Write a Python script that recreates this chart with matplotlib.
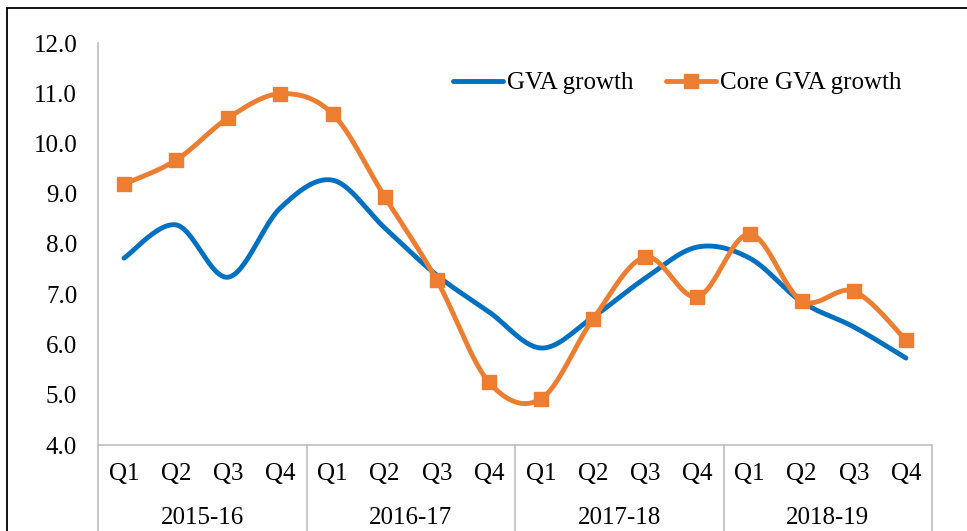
import matplotlib
matplotlib.use("Agg")
import matplotlib.pyplot as plt
import matplotlib.transforms as mtransforms
from matplotlib.patches import Rectangle
import numpy as np

plt.rcParams['font.family'] = ['Liberation Serif', 'DejaVu Serif']

years = ["2015-16", "2016-17", "2017-18", "2018-19"]
quarters = ["Q1", "Q2", "Q3", "Q4"]
gva = [7.72, 8.38, 7.34, 8.72, 9.27, 8.32, 7.38, 6.65,
       5.93, 6.55, 7.32, 7.94, 7.72, 6.85, 6.35, 5.73]
core_gva = [9.19, 9.67, 10.51, 10.99, 10.59, 8.94, 7.28, 5.25,
            4.92, 6.51, 7.74, 6.95, 8.20, 6.87, 7.06, 6.09]

BLUE = "#0070C0"
ORANGE = "#ED7D31"
GRAY = "#BFBFBF"
FS = 18


def smooth(x, y, n=30):
    # Excel-style smoothed line (Bezier through each point)
    x = np.asarray(x, float)
    y = np.asarray(y, float)
    px = np.concatenate([[x[0]], x, [x[-1]]])
    py = np.concatenate([[y[0]], y, [y[-1]]])
    xs, ys = [], []
    t = np.linspace(0, 1, n)
    for i in range(1, len(px) - 2):
        p0 = np.array([px[i], py[i]])
        p3 = np.array([px[i + 1], py[i + 1]])
        c1 = p0 + (np.array([px[i + 1], py[i + 1]]) - np.array([px[i - 1], py[i - 1]])) / 6
        c2 = p3 - (np.array([px[i + 2], py[i + 2]]) - np.array([px[i], py[i]])) / 6
        b = ((1 - t)[:, None] ** 3 * p0 + 3 * ((1 - t) ** 2 * t)[:, None] * c1
             + 3 * ((1 - t) * t ** 2)[:, None] * c2 + (t ** 3)[:, None] * p3)
        xs.extend(b[:, 0])
        ys.extend(b[:, 1])
    return np.array(xs), np.array(ys)


fig = plt.figure(figsize=(9.67, 5.31), dpi=100)
fig.patches.append(Rectangle((7 / 967, -0.1), 1.2, 1 - 8 / 531 + 0.1,
                             transform=fig.transFigure, fill=False,
                             edgecolor="black", linewidth=1.3))
ax = fig.add_axes([98 / 967, 1 - 445 / 531, (932 - 98) / 967, (445 - 43) / 531])

x = np.arange(len(gva)) + 0.5
sx, sy = smooth(x, gva)
ax.plot(sx, sy, color=BLUE, linewidth=3.5, solid_capstyle="round", label="GVA growth")
sx, sy = smooth(x, core_gva)
ax.plot(sx, sy, color=ORANGE, linewidth=3.5, solid_capstyle="round")
ax.plot(x, core_gva, linestyle="none", marker="s", markersize=10.5, color=ORANGE)
ax.plot([], [], color=ORANGE, linewidth=3.5, marker="s", markersize=10.5,
        solid_capstyle="round", label="Core GVA growth")

ax.set_xlim(0, 16)
ax.set_ylim(4, 12)
ax.set_yticks(np.arange(4, 12.01, 1))
ax.set_yticklabels([f"{v:.1f}" for v in np.arange(4, 12.01, 1)], fontsize=FS)
ax.tick_params(axis="y", length=0, pad=15)
ax.set_xticks([])
for s in ["top", "right"]:
    ax.spines[s].set_visible(False)
for s in ["left", "bottom"]:
    ax.spines[s].set_color(GRAY)
    ax.spines[s].set_linewidth(1.2)

trans = mtransforms.blended_transform_factory(ax.transData, ax.transAxes)
for i, q in enumerate(quarters * len(years)):
    ax.text(i + 0.5, -29 / 402, q, transform=trans, ha="center", va="center", fontsize=FS)
for j, yr in enumerate(years):
    ax.text(j * 4 + 2, -73 / 402, yr, transform=trans, ha="center", va="center", fontsize=FS)
for j in range(len(years) + 1):
    ax.plot([j * 4, j * 4], [0, -0.3], transform=trans, color=GRAY,
            linewidth=1.2, clip_on=False)

ax.legend(loc="center left", bbox_to_anchor=((453 - 98) / 834, (445 - 83) / 402),
          ncol=2, frameon=False, fontsize=FS, handlelength=2.0, handletextpad=0.15,
          columnspacing=1.3, borderpad=0, borderaxespad=0)

fig.savefig("out.png", dpi=100)
